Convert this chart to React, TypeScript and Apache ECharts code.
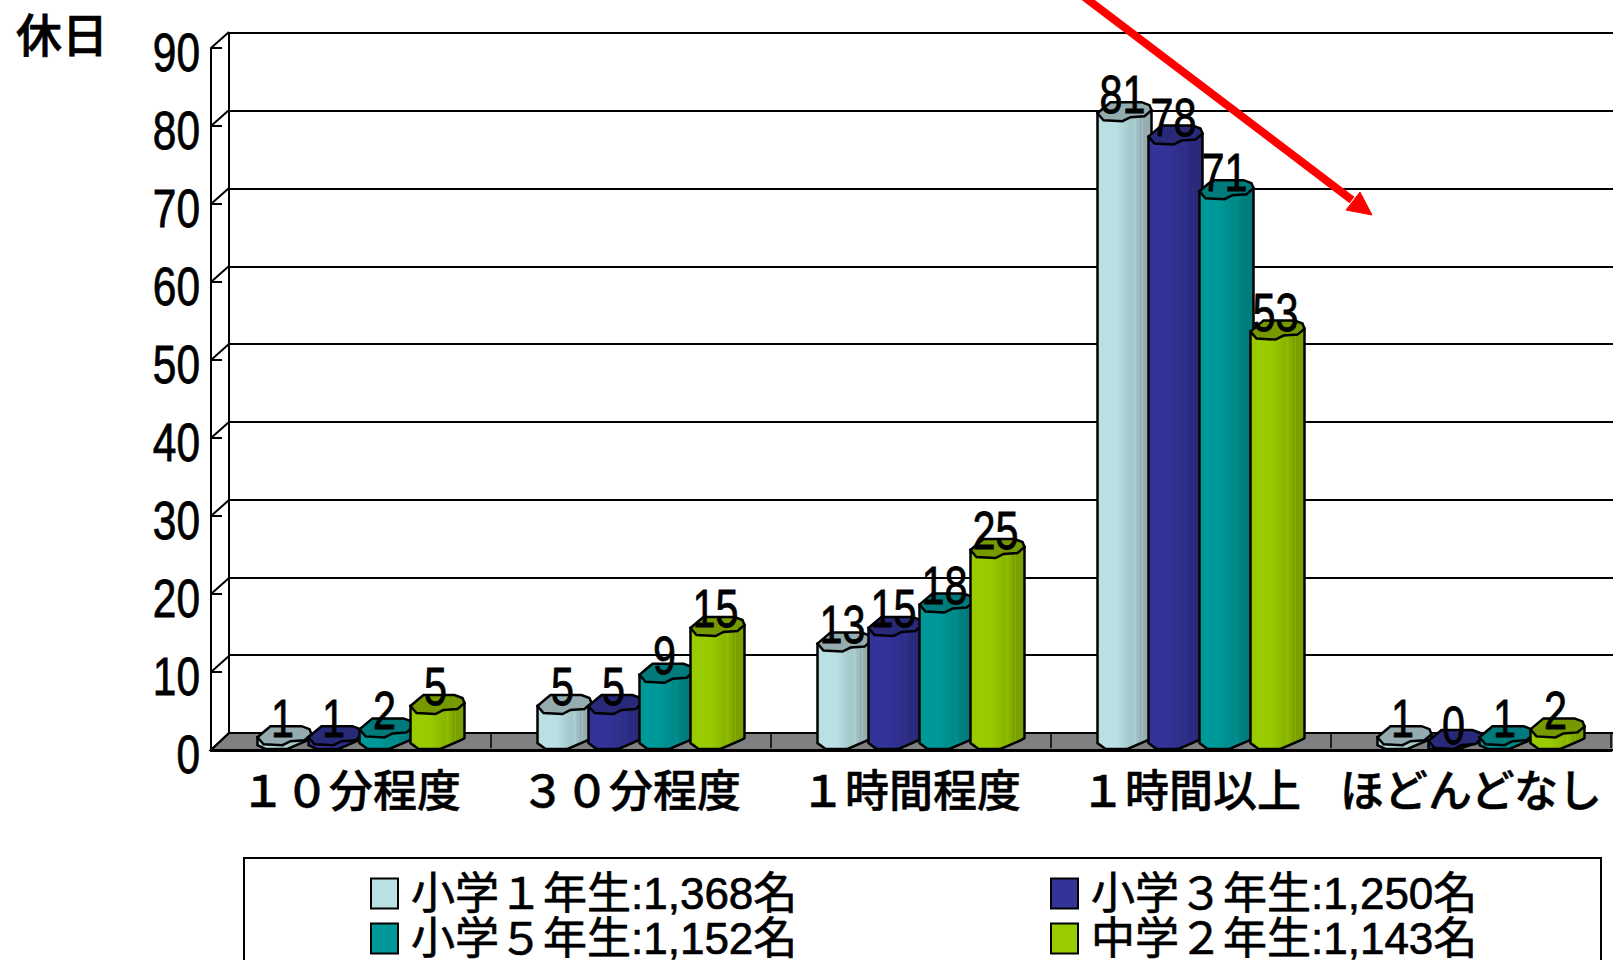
import React, { useEffect, useRef } from "react";
import * as echarts from "echarts";

const categories = ["１０分程度", "３０分程度", "１時間程度", "１時間以上", "ほどんどなし"];
const grade1 = [1, 5, 13, 81, 1];
const grade3 = [1, 5, 15, 78, 0];
const grade5 = [2, 9, 18, 71, 1];
const junior2 = [5, 15, 25, 53, 2];
const seriesNames = ["小学１年生:1,368名", "小学３年生:1,250名", "小学５年生:1,152名", "中学２年生:1,143名"];
const yTicks = [0, 10, 20, 30, 40, 50, 60, 70, 80, 90];

const palettes = [
  { face: "#b9e0e3", mid: "#a6c9cc", dark: "#95adb0", cap: "#94acb0" },
  { face: "#333399", mid: "#2e2e8a", dark: "#29297a", cap: "#29297a" },
  { face: "#009999", mid: "#008a8a", dark: "#007a7a", cap: "#007a7a" },
  { face: "#99cc00", mid: "#8ab800", dark: "#7a9f00", cap: "#779900" },
];

const FONT = '"Liberation Sans", "Noto Sans CJK JP", sans-serif';
const CJK = '"Noto Sans CJK JP", sans-serif';
const DEPTH_X = 18;
const DEPTH_Y = 17;
const BAR_W = 54;
const BAR_STEP = 51;
const BAR_SHIFT = 10;
const CAP_DROP = 3;
const capShape = [
  [0, -8], [6, -1], [25, 0], [33, -4], [47, -5], [54, -11], [52, -16], [44, -19], [13, -19], [7, -14],
];

function barLeft(cx: number, k: number) {
  return cx + BAR_SHIFT - (3 * BAR_STEP + BAR_W) / 2 + k * BAR_STEP;
}

function makeBarRender(k: number) {
  const p = palettes[k];
  const fill = new echarts.graphic.LinearGradient(0, 0, 1, 0, [
    { offset: 0, color: p.face },
    { offset: 0.35, color: p.face },
    { offset: 0.6, color: p.mid },
    { offset: 0.68, color: p.mid },
    { offset: 0.69, color: p.face },
    { offset: 0.7, color: p.mid },
    { offset: 0.82, color: p.dark },
    { offset: 0.83, color: p.mid },
    { offset: 0.84, color: p.dark },
    { offset: 1, color: p.dark },
  ]);
  return (params: any, api: any) => {
    const pt = api.coord([api.value(0), api.value(1)]);
    const base = api.coord([api.value(0), 0]);
    const x0 = barLeft(pt[0], k);
    const yBase = base[1] - 1;
    const yTop = Math.min(pt[1] + CAP_DROP, yBase);
    const xs = (v: number) => x0 + v;
    const lowL = Math.max(yTop, yBase - 6);
    const lowR = Math.max(yTop - 9, yBase - 11);
    return {
      type: "group",
      children: [
        {
          type: "polygon",
          shape: {
            points: [
              [xs(0), yTop - 8], [xs(0), lowL], [xs(8), yBase], [xs(30), yBase],
              [xs(BAR_W - 3), lowR + 2], [xs(BAR_W), lowR], [xs(BAR_W), yTop - 11],
            ],
          },
          style: { fill, stroke: "#000", lineWidth: 2.5 },
        },
        {
          type: "polygon",
          shape: { points: capShape.map(([a, b]) => [xs(a), yTop + b]) },
          style: { fill: p.cap, stroke: "#000", lineWidth: 2.5 },
        },
      ],
    };
  };
}

const narrowText = {
  fontFamily: "Liberation Sans",
  fontSize: 53,
  fill: "#000",
  stroke: "#000",
  lineWidth: 0.8,
  verticalAlign: "middle",
};

function makeLabelRender(k: number) {
  return (params: any, api: any) => {
    const pt = api.coord([api.value(0), api.value(1)]);
    return {
      type: "text",
      x: barLeft(pt[0], k) + BAR_W / 2 - 2,
      y: pt[1] - 24,
      scaleX: 0.78,
      style: { ...narrowText, text: String(api.value(1)), align: "center" },
    };
  };
}

function App() {
  const ref = useRef<HTMLDivElement>(null);
  useEffect(() => {
    const chart = echarts.init(ref.current!, undefined, { renderer: "svg" });
    const allSeries = [grade1, grade3, grade5, junior2];
    const common = { type: "custom", xAxisIndex: 0, yAxisIndex: 0, clip: false, silent: true, encode: { x: 0, y: 1 } };
    const barSeries = allSeries.map((vals, k) => ({
      ...common,
      name: seriesNames[k],
      z: 10 + k,
      itemStyle: { color: palettes[k].face },
      renderItem: makeBarRender(k),
      data: vals.map((v, i) => [i, v]),
    }));
    const labelSeries = allSeries.map((vals, k) => ({
      ...common,
      z: 30 + k,
      renderItem: makeLabelRender(k),
      data: vals.map((v, i) => [i, v]),
    }));
    const floorSeries = {
      ...common,
      z: 5,
      renderItem: (params: any, api: any) => {
        const o = api.coord([0, 0]);
        const band = api.size([1, 0])[0];
        const left = o[0] - band / 2;
        const children: any[] = [
          {
            type: "polygon",
            shape: {
              points: [
                [left, o[1]], [left + DEPTH_X, o[1] - DEPTH_Y],
                [left + 1430, o[1] - DEPTH_Y], [left + 1430, o[1]],
              ],
            },
            style: { fill: "#808080", stroke: "#000", lineWidth: 2 },
          },
        ];
        for (let i = 1; i <= 5; i++) {
          const x = left + band * i;
          children.push({
            type: "line",
            shape: { x1: x, y1: o[1] - DEPTH_Y, x2: x, y2: o[1] - 2 },
            style: { stroke: "#000", lineWidth: 1.5 },
          });
        }
        return { type: "group", children };
      },
      data: [[0, 0]],
    };
    const linkSeries = {
      ...common,
      z: 6,
      renderItem: (params: any, api: any) => {
        const p = api.coord([0, api.value(1)]);
        const band = api.size([1, 0])[0];
        const x = p[0] - band / 2;
        return {
          type: "group",
          children: [
            {
              type: "line",
              shape: { x1: x, y1: p[1], x2: x + DEPTH_X, y2: p[1] - DEPTH_Y + (api.value(1) === 0 ? 0 : 1) },
              style: { stroke: "#000", lineWidth: 2 },
            },
            {
              type: "text",
              x: x - 11,
              y: p[1] + 5,
              scaleX: 0.8,
              style: { ...narrowText, text: String(api.value(1)), align: "right" },
            },
          ],
        };
      },
      data: yTicks.map((t) => [0, t]),
    };
    const legendItem = (k: number) => ({
      name: seriesNames[k],
      icon: "rect",
      itemStyle: { color: palettes[k].face, borderColor: "#000", borderWidth: 2 },
    });
    const legendBase = {
      orient: "vertical",
      top: 871,
      height: 200,
      padding: 0,
      itemGap: 0,
      itemWidth: 27,
      itemHeight: 30,
      selectedMode: false,
      textStyle: {
        fontFamily: FONT,
        fontSize: 44,
        color: "#000",
        lineHeight: 45,
        padding: [0, 0, 0, 8],
        textBorderColor: "#000",
        textBorderWidth: 0.7,
      },
    };
    chart.setOption({
      animation: false,
      backgroundColor: "#fff",
      title: {
        text: "休日",
        left: 16,
        top: 4,
        padding: 0,
        textStyle: {
          fontFamily: CJK,
          fontSize: 46,
          fontWeight: 500,
          color: "#000",
          lineHeight: 56,
          textBorderColor: "#000",
          textBorderWidth: 0.7,
        },
      },
      legend: [
        { ...legendBase, left: 370, data: [legendItem(0), legendItem(2)] },
        { ...legendBase, left: 1050, data: [legendItem(1), legendItem(3)] },
      ],
      grid: [
        { left: 211, top: 48, width: 1400, height: 702 },
        { left: 229, top: 33, width: 1400, height: 700 },
      ],
      xAxis: [
        {
          type: "category",
          gridIndex: 0,
          data: categories,
          axisLine: { show: true, lineStyle: { color: "#000", width: 3 } },
          axisTick: { show: false },
          axisLabel: {
            fontFamily: CJK,
            fontSize: 44,
            color: "#000",
            margin: 16,
            interval: 0,
            fontWeight: 500,
            textBorderColor: "#000",
            textBorderWidth: 0.5,
          },
        },
        { type: "category", gridIndex: 1, data: categories, show: false },
      ],
      yAxis: [
        {
          type: "value",
          gridIndex: 0,
          min: 0,
          max: 90,
          interval: 10,
          axisLine: { show: true, lineStyle: { color: "#000", width: 2 } },
          axisTick: { show: true, inside: true, length: 11, lineStyle: { color: "#000", width: 2 } },
          splitLine: { show: false },
          axisLabel: { show: false },
        },
        {
          type: "value",
          gridIndex: 1,
          min: 0,
          max: 90,
          interval: 10,
          axisLine: { show: true, lineStyle: { color: "#000", width: 2 } },
          axisTick: { show: false },
          axisLabel: { show: false },
          splitLine: { show: true, lineStyle: { color: "#000", width: 2 } },
        },
      ],
      graphic: [
        {
          type: "rect",
          z: 50,
          shape: { x: 244, y: 858, width: 1357, height: 110 },
          style: { fill: "none", stroke: "#000", lineWidth: 2 },
        },
        {
          type: "line",
          z: 60,
          shape: { x1: 1083, y1: -4, x2: 1352, y2: 200 },
          style: { stroke: "#ff0000", lineWidth: 8 },
        },
        {
          type: "polygon",
          z: 60,
          shape: { points: [[1372, 215], [1346, 210], [1360, 192]] },
          style: { fill: "#ff0000", stroke: "#ff0000", lineWidth: 1 },
        },
      ],
      series: [floorSeries, linkSeries, ...barSeries, ...labelSeries],
    });
    return () => chart.dispose();
  }, []);
  return <div ref={ref} style={{ position: "fixed", left: 0, top: 0, width: 1613, height: 960 }} />;
}

export default App;
